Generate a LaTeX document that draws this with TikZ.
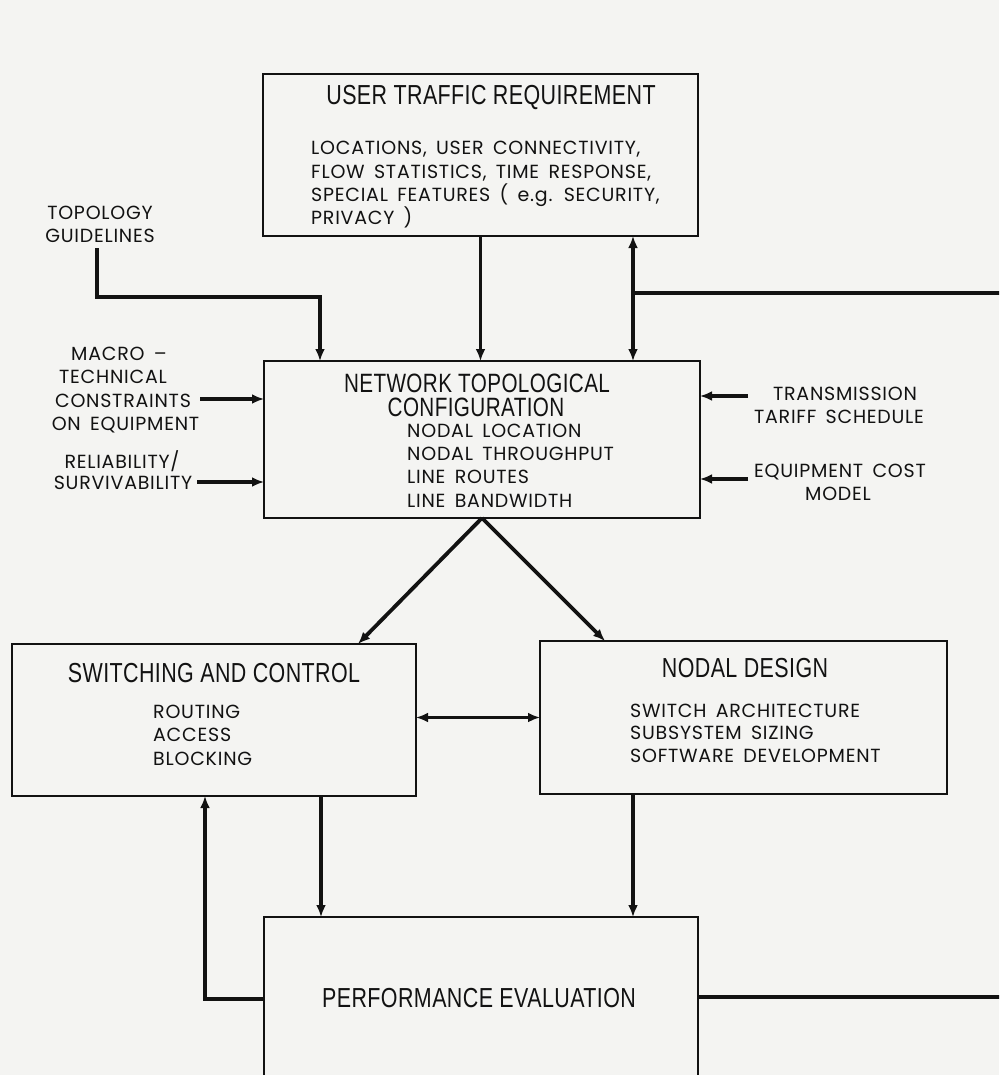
\documentclass[tikz,border=0pt]{standalone}
\usepackage{fontspec}
\setmainfont[LetterSpace=4,WordSpace=1.6]{Poppins}
\newfontfamily\ttlfont[FakeStretch=0.78,LetterSpace=1.5]{Liberation Sans}
\usetikzlibrary{arrows.meta}
\definecolor{paper}{RGB}{244,244,242}
\definecolor{ink}{RGB}{18,18,18}
\newcommand\mybodyfont{\fontsize{19}{22}\selectfont}
\newcommand\myttlfont{\ttlfont\fontsize{27.5}{30}\selectfont}
\begin{document}
\begin{tikzpicture}[x=1pt,y=-1pt,
  box/.style={draw=ink, line width=2.4pt, inner sep=0pt, outer sep=0pt},
  conn/.style={draw=ink, line width=3.8pt},
  tip/.style={-{Latex[length=12pt,width=10pt]}},
  twotip/.style={{Latex[length=12pt,width=10pt]}-{Latex[length=12pt,width=10pt]}},
  body/.style={font=\mybodyfont, text=ink, inner sep=0pt, anchor=base west},
  cbody/.style={font=\mybodyfont, text=ink, inner sep=0pt, anchor=base},
  ttl/.style={font=\myttlfont, text=ink, inner sep=0pt, anchor=base}]
\useasboundingbox (0,0) rectangle (999,1075);
\fill[paper] (0,0) rectangle (999,1075);
\begin{scope}
\clip (0,0) rectangle (999,1075);
% boxes
\node[box, minimum width=435pt, minimum height=162pt] (utr) at (480.5,155) {};
\node[box, minimum width=436pt, minimum height=157pt] (ntc) at (482,439.5) {};
\node[box, minimum width=404pt, minimum height=152pt] (sc) at (214,720) {};
\node[box, minimum width=407pt, minimum height=153pt] (nd) at (743.5,717.5) {};
\node[box, minimum width=434pt, minimum height=168pt] (pe) at (481,1001) {};
% box texts
\node[ttl] (utrt) at (491,105) {USER TRAFFIC REQUIREMENT};
\node[body] (u1) at (311,155) {LOCATIONS, USER CONNECTIVITY,};
\node[body] (u2) at (311,178.3) {FLOW STATISTICS, TIME RESPONSE,};
\node[body] (u3) at (311,201.6) {SPECIAL FEATURES ( e.g. SECURITY,};
\node[body] (u4) at (311,225) {PRIVACY )};
\node[ttl, font=\ttlfont\fontsize{26.5}{30}\selectfont] (nt1) at (477,392) {NETWORK TOPOLOGICAL};
\node[ttl, font=\ttlfont\fontsize{26.5}{30}\selectfont] (nt2) at (476,416) {CONFIGURATION};
\node[body] (n1) at (407,437.5) {NODAL LOCATION};
\node[body] (n2) at (407,460.5) {NODAL THROUGHPUT};
\node[body] (n3) at (407,483.6) {LINE ROUTES};
\node[body] (n4) at (407,507) {LINE BANDWIDTH};
\node[ttl] (sct) at (214,682) {SWITCHING AND CONTROL};
\node[body] (s1) at (153,718) {ROUTING};
\node[body] (s2) at (153,741.5) {ACCESS};
\node[body] (s3) at (153,765) {BLOCKING};
\node[ttl] (ndt) at (745,677) {NODAL DESIGN};
\node[body] (d1) at (630,717) {SWITCH ARCHITECTURE};
\node[body] (d2) at (630,739.5) {SUBSYSTEM SIZING};
\node[body] (d3) at (630,762.5) {SOFTWARE DEVELOPMENT};
\node[ttl] (pet) at (479,1007) {PERFORMANCE EVALUATION};
% outside labels
\node[cbody] (tg1) at (100,220) {TOPOLOGY};
\node[cbody] (tg2) at (100,243) {GUIDELINES};
\node[cbody] (m1) at (119,360) {MACRO --};
\node[cbody] (m2) at (113,383.5) {TECHNICAL};
\node[cbody] (m3) at (123,407) {CONSTRAINTS};
\node[cbody] (m4) at (125.5,430) {ON EQUIPMENT};
\node[cbody] (r1) at (122,468) {RELIABILITY/};
\node[cbody] (r2) at (123,489.5) {SURVIVABILITY};
\node[cbody] (t1) at (845,400) {TRANSMISSION};
\node[cbody] (t2) at (839,423) {TARIFF SCHEDULE};
\node[cbody] (e1) at (840,477) {EQUIPMENT COST};
\node[cbody] (e2) at (838,500) {MODEL};
% coordinates
\coordinate (tgk) at (320,297);
\coordinate (jn) at (633,293);
\coordinate (rend) at (1005,293);
\coordinate (mA) at (200,399);
\coordinate (rA) at (197,482);
\coordinate (tA) at (748,396);
\coordinate (eA) at (748,479);
\coordinate (sx) at (321,0);
\coordinate (nx) at (633,0);
\coordinate (pl) at (205,999);
\coordinate (pr) at (1005,997);
% connectors
\draw[conn,tip] ([xshift=-3pt,yshift=-5pt]tg2.south) |- (tgk) -- (tgk |- ntc.north);
\draw[conn,tip] (utr.south) -- (utr.south |- ntc.north);
\draw[conn] (rend) -- (jn);
\draw[conn,tip] (jn) -- (jn |- utr.south);
\draw[conn,tip] (jn) -- (jn |- ntc.north);
\draw[conn,tip] (mA) -- (mA -| ntc.west);
\draw[conn,tip] (rA) -- (rA -| ntc.west);
\draw[conn,tip] (tA) -- (tA -| ntc.east);
\draw[conn,tip] (eA) -- (eA -| ntc.east);
\draw[conn,tip] (ntc.south) -- ([xshift=144pt]sc.north);
\draw[conn,tip] (ntc.south) -- ([xshift=-138.5pt]nd.north);
\draw[conn,twotip] (sc.east |- nd.west) -- (nd.west);
\draw[conn,tip] (sx |- sc.south) -- (sx |- pe.north);
\draw[conn,tip] (nx |- nd.south) -- (nx |- pe.north);
\draw[conn,tip] (pl -| pe.west) -- (pl) -- (pl |- sc.south);
\draw[conn] (pe.east |- pr) -- (pr);
\end{scope}
\end{tikzpicture}
\end{document}
